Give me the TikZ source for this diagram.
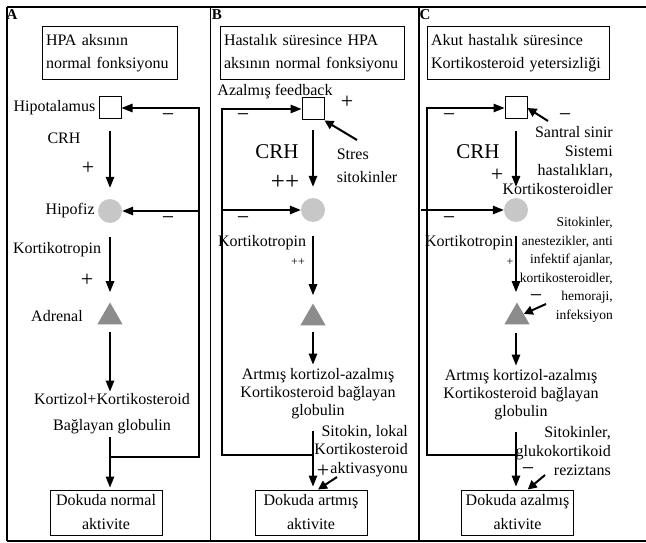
\documentclass[tikz,border=0pt]{standalone}
\usepackage{fontspec}
\setmainfont{Liberation Serif}
\usetikzlibrary{arrows.meta,positioning,shapes.geometric}
\tikzset{
  hpatitle/.style={draw, line width=1pt, align=left, minimum height=53pt, inner xsep=4pt, font=\fontsize{16}{23}\selectfont},
  hpatissue/.style={draw, line width=1pt, align=center, minimum width=112pt, minimum height=45pt, inner sep=2pt, font=\fontsize{16}{24}\selectfont},
  hpalabel/.style={inner sep=1pt, font=\fontsize{16}{19}\selectfont},
  hpamulti/.style={inner sep=1pt, align=center, font=\fontsize{16}{18}\selectfont},
  hpasmall/.style={inner sep=1pt, align=right, font=\fontsize{13.5}{18.5}\selectfont},
  hpasign/.style={inner sep=0pt, font=\fontsize{22}{22}\selectfont},
  hpacrh/.style={inner sep=0pt, font=\fontsize{21}{21}\selectfont},
  hypo/.style={draw, line width=1pt, minimum size=22pt, inner sep=0pt},
  pit/.style={circle, fill=black!22, minimum size=24pt, inner sep=0pt},
  adr/.style={regular polygon, regular polygon sides=3, fill=black!45, minimum size=29pt, inner sep=0pt},
  hpaarrow/.style={-{Triangle[length=11pt,width=8.5pt]}, line width=1.4pt},
  hpapush/.style={-{Triangle[length=9pt,width=9pt]}, line width=2pt},
  panelhead/.style={inner sep=0pt, font=\fontsize{15}{15}\selectfont\bfseries}
}
\begin{document}
\begin{tikzpicture}[x=1pt, y=-1pt]
\useasboundingbox (0,0) rectangle (646,543);
\draw[line width=1.6pt] (7,7) -- (646,7);
\draw[line width=1.6pt] (7,541) -- (646,541);
\draw[line width=1.2pt] (7,7) -- (7,541);
\draw[line width=1.2pt] (210.5,7) -- (210.5,541);
\draw[line width=1.2pt] (419,7) -- (419,541);
\node[panelhead] (headA) at (12,15) {A};
\node[panelhead] (headB) at (217,15) {B};
\node[panelhead] (headC) at (425,15) {C};

% A: normal function
\node[hpatitle, text width=127pt] (titleA) at (109.5,53.5) {HPA aksının\\normal fonksiyonu};
\node[hypo] (hypoA) at (110,108) {};
\node[pit] (pitA) at (110,211) {};
\node[adr] (adrA) at (110,317) {};
\node[hpamulti] (cortA) at (112,414) {Kortizol+Kortikosteroid\\[8pt]Bağlayan globulin};
\node[hpatissue] (tissueA) at (106,512.5) {Dokuda normal\\aktivite};
\node[hpalabel, left=2pt of hypoA] (hypoAlbl) {Hipotalamus};
\node[hpalabel, left=2pt of pitA] (pitAlbl) {Hipofiz};
\node[hpalabel] (crhA) at (64,138) {CRH};
\node[hpalabel] (acthA) at (57,250) {Kortikotropin};
\node[hpalabel] (adrAlbl) at (57,316) {Adrenal};
\node[hpasign] (plusA1) at (88,168) {+};
\node[hpasign] (plusA2) at (87,280) {+};
\node[hpasign] (minusA1) at (168,118) {−};
\node[hpasign] (minusA2) at (168,221) {−};
\coordinate (fbA) at (110,457);
\coordinate (fbAr) at (199,457);
\draw[hpaarrow, shorten <=12pt, shorten >=11pt] (hypoA) -- (pitA);
\draw[hpaarrow, shorten <=14pt, shorten >=10pt] (pitA) -- (adrA);
\draw[hpaarrow, shorten <=8pt, shorten >=1pt] (adrA) -- (cortA.north -| adrA);
\draw[hpaarrow, shorten <=2pt, shorten >=2pt] (cortA.south -| adrA) -- (tissueA.north -| adrA);
\draw[hpaarrow] (fbA) -- (fbAr) |- (hypoA);
\draw[hpaarrow] (fbAr |- pitA) -- (pitA);

% B: during illness
\node[hpatitle, text width=176pt] (titleB) at (312,53.5) {Hastalık süresince HPA\\aksının normal fonksiyonu};
\node[hypo] (hypoB) at (313,109) {};
\node[pit] (pitB) at (313,210) {};
\node[adr] (adrB) at (313,318) {};
\node[hpamulti] (cortB) at (318,394) {Artmış kortizol-azalmış\\Kortikosteroid bağlayan\\globulin};
\node[hpatissue] (tissueB) at (311,512.5) {Dokuda artmış\\aktivite};
\node[hpalabel] (fbBlbl) at (275,92) {Azalmış feedback};
\node[hpacrh] (crhB) at (277,152) {CRH};
\node[hpasign] (plusB1) at (347,102) {+};
\node[hpasign, font=\fontsize{25}{25}\selectfont] (plusB2) at (285,182) {++};
\node[hpalabel, align=left, font=\fontsize{16}{23}\selectfont] (stressB) at (367,166) {Stres\\sitokinler};
\node[hpalabel] (acthB) at (262,243) {Kortikotropin};
\node[hpalabel, font=\fontsize{12}{12}\selectfont] (plusB3) at (298,262) {++};
\node[hpasign] (minusB1) at (243,118) {−};
\node[hpasign] (minusB2) at (243,221) {−};
\node[hpalabel, align=right, anchor=east, font=\fontsize{16}{18.5}\selectfont] (localB) at (409,451) {Sitokin, lokal\\Kortikosteroid\\aktivasyonu};
\node[hpasign] (plusB4) at (323,471) {+};
\coordinate (fbB) at (313,455);
\coordinate (fbBl) at (222,455);
\coordinate (stressBtail) at (357,140);
\coordinate (localBtail) at (337,477);
\draw[hpaarrow, shorten <=10pt, shorten >=11pt] (hypoB) -- (pitB);
\draw[hpaarrow, shorten <=14pt, shorten >=8pt] (pitB) -- (adrB);
\draw[hpaarrow, shorten <=7pt, shorten >=3pt] (adrB) -- (cortB.north -| adrB);
\draw[hpaarrow, shorten <=11pt, shorten >=3pt] (cortB.south -| adrB) -- (tissueB.north -| adrB);
\draw[hpaarrow] (fbB) -- (fbBl) |- (hypoB);
\draw[hpaarrow] (fbBl |- pitB) -- (pitB);
\draw[hpapush] (stressBtail) -- (hypoB.south east);
\draw[hpapush] (localBtail) -- (tissueB.73);

% C: corticosteroid insufficiency
\node[hpatitle, text width=174pt] (titleC) at (518,53.5) {Akut hastalık süresince\\Kortikosteroid yetersizliği};
\node[hypo] (hypoC) at (516,108) {};
\node[pit] (pitC) at (516,210) {};
\node[adr] (adrC) at (517,317) {};
\node[hpamulti] (cortC) at (521,395) {Artmış kortizol-azalmış\\Kortikosteroid bağlayan\\globulin};
\node[hpatissue] (tissueC) at (517.5,512.5) {Dokuda azalmış\\aktivite};
\node[hpacrh] (crhC) at (478,152) {CRH};
\node[hpasign] (plusC1) at (497,175) {+};
\node[hpalabel, align=right, anchor=east] (cnsC) at (614,161) {Santral sinir\\Sistemi\\hastalıkları,\\Kortikosteroidler};
\node[hpalabel] (acthC) at (469,243) {Kortikotropin};
\node[hpalabel, font=\fontsize{12}{12}\selectfont] (plusC2) at (510,262) {+};
\node[hpasmall, anchor=east] (drugC) at (614,270) {Sitokinler,\\anestezikler, anti\\infektif ajanlar,\\kortikosteroidler,\\hemoraji,\\infeksiyon};
\node[hpasign] (minusC1) at (449,118) {−};
\node[hpasign] (minusC2) at (565,118) {−};
\node[hpasign] (minusC3) at (449,221) {−};
\node[hpasign] (minusC4) at (536,299) {−};
\node[hpalabel, align=right, anchor=east] (resistC) at (612,451) {Sitokinler,\\glukokortikoid\\reziztans};
\node[hpasign] (minusC5) at (528,472) {−};
\coordinate (fbC) at (516,455);
\coordinate (fbCl) at (427,455);
\coordinate (pitCtail) at (421,210);
\coordinate (cnsCtail) at (548,121);
\coordinate (drugCtail) at (546,304);
\coordinate (resistCtail) at (545,475);
\draw[hpaarrow, shorten <=12pt, shorten >=11pt] (hypoC) -- (pitC);
\draw[hpaarrow, shorten <=14pt, shorten >=10pt] (pitC) -- (adrC.north -| pitC);
\draw[hpaarrow, shorten <=9pt, shorten >=3pt] (adrC.south -| pitC) -- (cortC.north -| pitC);
\draw[hpaarrow, shorten <=11pt, shorten >=3pt] (cortC.south -| pitC) -- (tissueC.north -| pitC);
\draw[hpaarrow] (fbC) -- (fbCl) |- (hypoC);
\draw[hpaarrow] (pitCtail) -- (pitC);
\draw[hpapush] (cnsCtail) -- (hypoC.east);
\draw[hpapush] (drugCtail) -- (adrC);
\draw[hpapush] (resistCtail) -- (tissueC.66);
\end{tikzpicture}
\end{document}
